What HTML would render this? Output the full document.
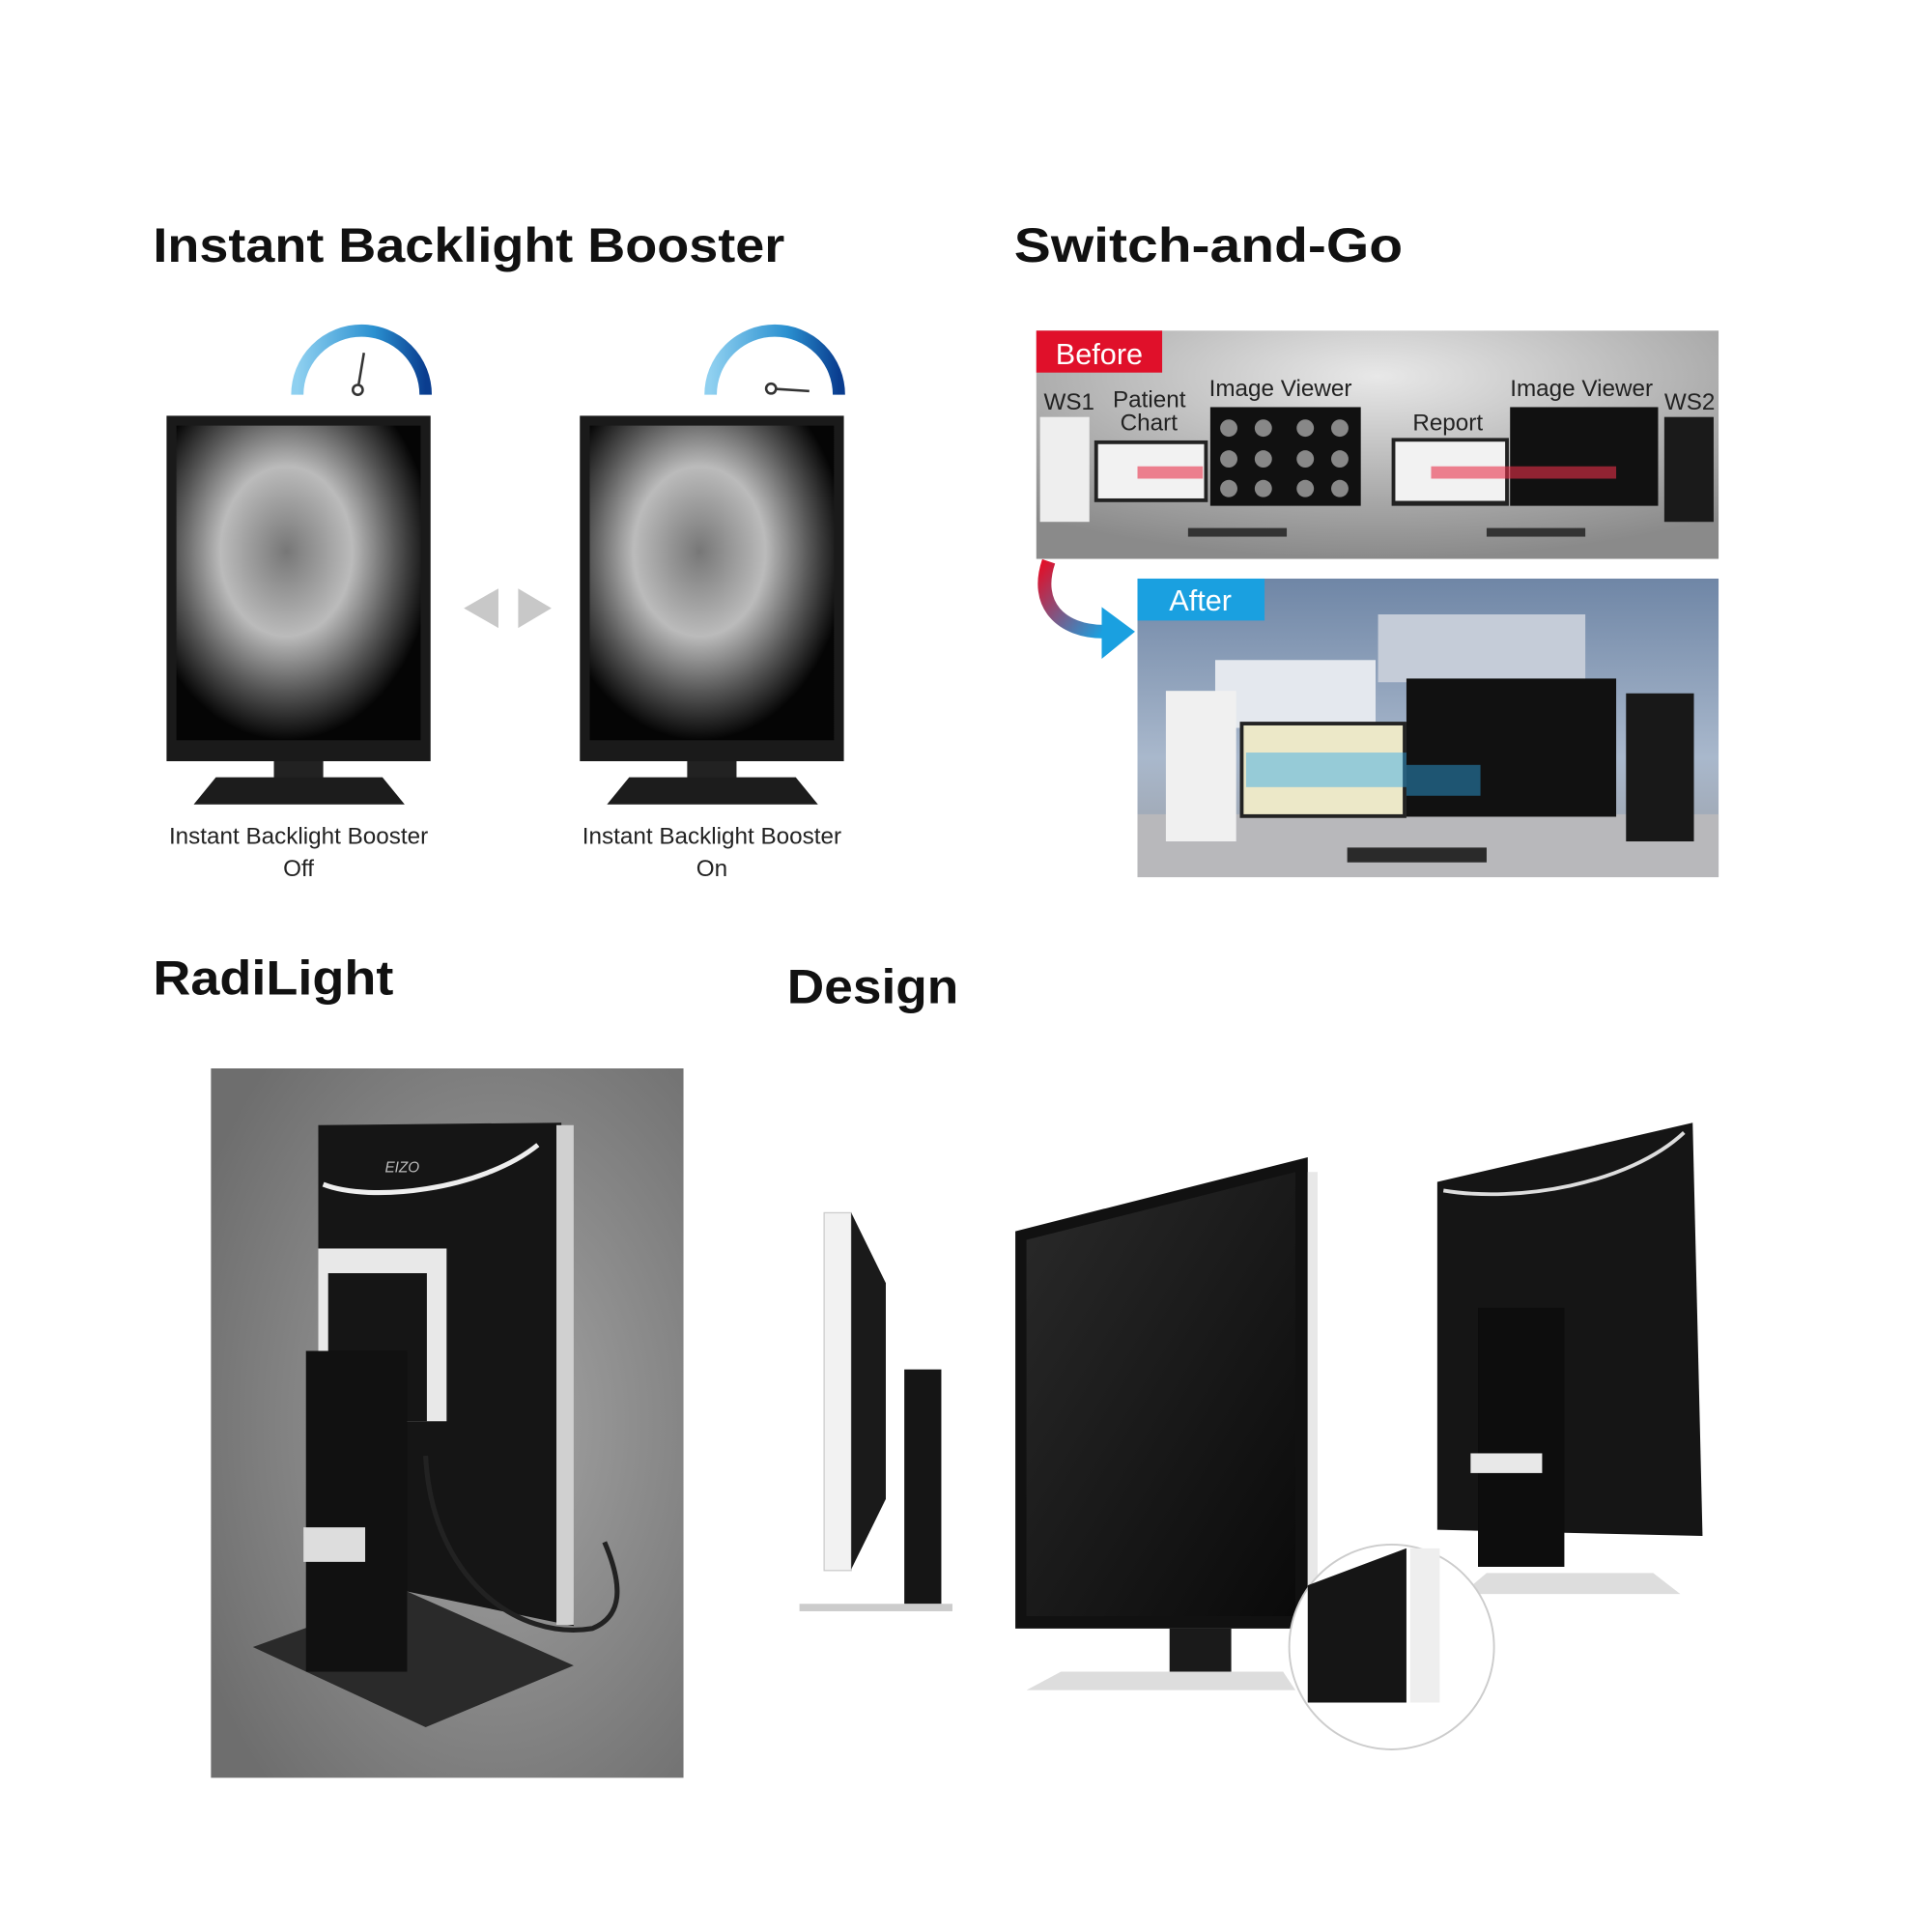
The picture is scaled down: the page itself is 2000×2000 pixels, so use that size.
<!DOCTYPE html>
<html><head><meta charset="utf-8"><style>
html,body{margin:0;padding:0;background:#fff}
svg{display:block}
text{font-family:"Liberation Sans",sans-serif}
</style></head><body>
<svg width="2000" height="2000" viewBox="0 0 1566 1566" xmlns="http://www.w3.org/2000/svg">
<defs>
<radialGradient id="xray" cx="0.45" cy="0.4" r="0.6">
<stop offset="0" stop-color="#777"/><stop offset="0.45" stop-color="#bbb"/><stop offset="0.75" stop-color="#555"/><stop offset="1" stop-color="#050505"/></radialGradient>
<linearGradient id="gauge" x1="0" y1="0" x2="1" y2="0"><stop offset="0" stop-color="#8fd0f0"/><stop offset="0.6" stop-color="#2a90d0"/><stop offset="1" stop-color="#0a3d8f"/></linearGradient>
<radialGradient id="before" cx="0.5" cy="0.2" r="0.8"><stop offset="0" stop-color="#e8e8e8"/><stop offset="1" stop-color="#8a8a8a"/></radialGradient>
<linearGradient id="after" x1="0" y1="0" x2="0" y2="1"><stop offset="0" stop-color="#6f86a6"/><stop offset="0.6" stop-color="#a9b8cc"/><stop offset="1" stop-color="#9a9ea5"/></linearGradient>
<radialGradient id="radi" cx="0.6" cy="0.5" r="0.7"><stop offset="0" stop-color="#a5a5a5"/><stop offset="1" stop-color="#6e6e6e"/></radialGradient>
<linearGradient id="curv" x1="0" y1="0" x2="1" y2="1"><stop offset="0" stop-color="#e0102a"/><stop offset="1" stop-color="#1aa0e0"/></linearGradient>
<linearGradient id="scr" x1="0" y1="0" x2="1" y2="1"><stop offset="0" stop-color="#2a2a2a"/><stop offset="1" stop-color="#0a0a0a"/></linearGradient>
</defs>

<!-- headings -->
<text x="124" y="212" font-size="39" font-weight="bold" fill="#111" textLength="512" lengthAdjust="spacingAndGlyphs">Instant Backlight Booster</text>
<text x="822" y="212" font-size="39" font-weight="bold" fill="#111" textLength="315" lengthAdjust="spacingAndGlyphs">Switch-and-Go</text>
<text x="124" y="806" font-size="39" font-weight="bold" fill="#111" textLength="195" lengthAdjust="spacingAndGlyphs">RadiLight</text>
<text x="638" y="813" font-size="39" font-weight="bold" fill="#111" textLength="139" lengthAdjust="spacingAndGlyphs">Design</text>

<!-- gauges -->
<g fill="none" stroke-width="10">
<path d="M241 320 A52 52 0 0 1 345 320" stroke="url(#gauge)"/>
<path d="M576 320 A52 52 0 0 1 680 320" stroke="url(#gauge)"/>
</g>
<line x1="290" y1="316" x2="295" y2="286" stroke="#333" stroke-width="2"/><circle cx="290" cy="316" r="4" fill="#fff" stroke="#333" stroke-width="2"/>
<line x1="625" y1="315" x2="656" y2="317" stroke="#333" stroke-width="2"/><circle cx="625" cy="315" r="4" fill="#fff" stroke="#333" stroke-width="2"/>

<!-- monitors -->
<g>
<rect x="135" y="337" width="214" height="280" fill="#1a1a1a"/>
<rect x="143" y="345" width="198" height="255" fill="url(#xray)"/>
<rect x="222" y="617" width="40" height="14" fill="#222"/>
<polygon points="175,630 310,630 328,652 157,652" fill="#1c1c1c"/>
<rect x="470" y="337" width="214" height="280" fill="#1a1a1a"/>
<rect x="478" y="345" width="198" height="255" fill="url(#xray)"/>
<rect x="557" y="617" width="40" height="14" fill="#222"/>
<polygon points="510,630 645,630 663,652 492,652" fill="#1c1c1c"/>
</g>
<polygon points="404,477 404,509 376,493" fill="#c8c8c8"/>
<polygon points="420,477 420,509 447,493" fill="#c8c8c8"/>
<text x="242" y="684" font-size="19" text-anchor="middle" fill="#222">Instant Backlight Booster</text>
<text x="242" y="710" font-size="19" text-anchor="middle" fill="#222">Off</text>
<text x="577" y="684" font-size="19" text-anchor="middle" fill="#222">Instant Backlight Booster</text>
<text x="577" y="710" font-size="19" text-anchor="middle" fill="#222">On</text>

<!-- before panel -->
<rect x="840" y="268" width="553" height="185" fill="url(#before)"/>
<rect x="843" y="338" width="40" height="85" fill="#eee"/>
<rect x="887" y="357" width="92" height="50" fill="#222"/><rect x="890" y="360" width="86" height="44" fill="#f2f2f2"/>
<rect x="981" y="330" width="122" height="80" fill="#111"/>
<g fill="#888"><circle cx="996" cy="347" r="7"/><circle cx="1024" cy="347" r="7"/><circle cx="1058" cy="347" r="7"/><circle cx="1086" cy="347" r="7"/><circle cx="996" cy="372" r="7"/><circle cx="1024" cy="372" r="7"/><circle cx="1058" cy="372" r="7"/><circle cx="1086" cy="372" r="7"/><circle cx="996" cy="396" r="7"/><circle cx="1024" cy="396" r="7"/><circle cx="1058" cy="396" r="7"/><circle cx="1086" cy="396" r="7"/></g>
<rect x="1128" y="355" width="95" height="55" fill="#222"/><rect x="1131" y="358" width="89" height="48" fill="#f2f2f2"/>
<rect x="1224" y="330" width="120" height="80" fill="#111"/>
<rect x="1349" y="338" width="40" height="85" fill="#1a1a1a"/>
<rect x="963" y="428" width="80" height="7" fill="#333"/><rect x="1205" y="428" width="80" height="7" fill="#333"/>
<polygon points="922,378 975,378 975,388 922,388" fill="#e8304a" opacity="0.6"/>
<polygon points="1160,378 1310,378 1310,388 1160,388" fill="#e8304a" opacity="0.6"/>
<rect x="840" y="268" width="102" height="34" fill="#e0102a"/>
<text x="891" y="295" font-size="24" text-anchor="middle" fill="#fff">Before</text>
<g font-size="19" fill="#222">
<text x="846" y="332">WS1</text>
<text x="902" y="330">Patient</text><text x="908" y="349">Chart</text>
<text x="980" y="321">Image Viewer</text>
<text x="1145" y="349">Report</text>
<text x="1224" y="321">Image Viewer</text>
<text x="1349" y="332">WS2</text>
</g>

<!-- curved arrow -->
<path d="M850 455 C838 490 860 512 895 512" fill="none" stroke="url(#curv)" stroke-width="11"/>
<polygon points="893,492 920,512 893,534" fill="#1aa0e0"/>

<!-- after panel -->
<rect x="922" y="469" width="471" height="242" fill="url(#after)"/>
<rect x="922" y="660" width="471" height="51" fill="#b8b8bb"/>
<rect x="1117" y="498" width="168" height="55" fill="#c5ccd8"/>
<rect x="985" y="535" width="130" height="55" fill="#e4e8ee"/>
<rect x="945" y="560" width="57" height="122" fill="#f0f0f0"/>
<rect x="1005" y="585" width="135" height="78" fill="#222"/><rect x="1008" y="588" width="129" height="72" fill="#ece8c8"/>
<rect x="1140" y="550" width="170" height="112" fill="#111"/>
<rect x="1318" y="562" width="55" height="120" fill="#181818"/>
<rect x="1092" y="687" width="113" height="12" fill="#2a2a2a"/>
<rect x="1010" y="610" width="130" height="28" fill="#2fa8e8" opacity="0.45"/>
<rect x="1140" y="620" width="60" height="25" fill="#2fa8e8" opacity="0.45"/>
<rect x="922" y="469" width="103" height="34" fill="#1aa0e0"/>
<text x="973" y="495" font-size="24" text-anchor="middle" fill="#fff">After</text>

<!-- RadiLight photo -->
<rect x="171" y="866" width="383" height="575" fill="url(#radi)"/>
<polygon points="205,1335 330,1290 465,1350 345,1400" fill="#2a2a2a"/>
<polygon points="258,912 455,910 465,1318 330,1290 258,1080" fill="#151515"/>
<rect x="451" y="912" width="14" height="405" fill="#d0d0d0"/>
<path d="M262 960 C300 975 390 965 436 928" stroke="#eee" stroke-width="4" fill="none"/>
<rect x="258" y="1012" width="104" height="140" fill="#e8e8e8"/>
<rect x="266" y="1032" width="80" height="120" fill="#151515"/>
<rect x="248" y="1095" width="82" height="260" fill="#111"/>
<rect x="246" y="1238" width="50" height="28" fill="#ddd"/>
<path d="M345 1180 C350 1280 420 1330 480 1320 C505 1310 505 1285 490 1250" stroke="#222" stroke-width="4" fill="none"/>
<text x="312" y="950" font-size="12" font-style="italic" fill="#bbb">EIZO</text>

<!-- Design -->
<rect x="668" y="983" width="22" height="290" fill="#f2f2f2" stroke="#ccc"/>
<polygon points="690,983 718,1040 718,1215 690,1272" fill="#1a1a1a"/>
<rect x="733" y="1110" width="30" height="190" fill="#151515"/>
<rect x="648" y="1300" width="124" height="6" fill="#ccc"/>
<polygon points="823,998 1060,938 1060,1320 823,1320" fill="#111"/>
<polygon points="832,1005 1050,950 1050,1310 832,1310" fill="url(#scr)"/>
<rect x="1060" y="950" width="8" height="370" fill="#e8e8e8"/>
<rect x="948" y="1320" width="50" height="40" fill="#1a1a1a"/>
<polygon points="860,1355 1040,1355 1050,1370 832,1370" fill="#ddd"/>
<polygon points="1165,958 1372,910 1380,1245 1165,1240" fill="#151515"/>
<path d="M1170 965 C1230 975 1320 960 1365 918" stroke="#ddd" stroke-width="3" fill="none"/>
<rect x="1198" y="1060" width="70" height="210" fill="#0d0d0d"/>
<rect x="1192" y="1178" width="58" height="16" fill="#e8e8e8"/>
<polygon points="1205,1275 1340,1275 1362,1292 1185,1292" fill="#ddd"/>
<circle cx="1128" cy="1335" r="83" fill="#fff" stroke="#ccc" stroke-width="1.5"/>
<path d="M1060 1285 L1140 1255 L1140 1380 L1060 1380 Z" fill="#151515"/>
<rect x="1143" y="1255" width="24" height="125" fill="#eee"/>
</svg>
</body></html>
